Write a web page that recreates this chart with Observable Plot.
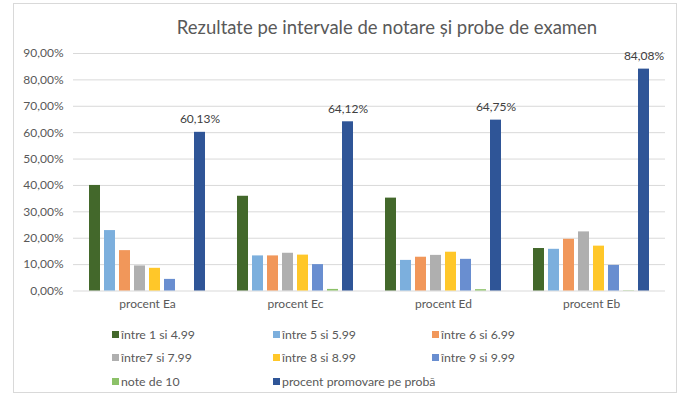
<!DOCTYPE html>
<html>
<head>
<meta charset="utf-8">
<script src="https://cdn.jsdelivr.net/npm/d3@7"></script>
<script src="https://cdn.jsdelivr.net/npm/@observablehq/plot@0.6"></script>
<style>
  html, body { margin: 0; padding: 0; background: #fff; }
  #wrap { position: relative; width: 700px; height: 400px; overflow: hidden; font-family: Lato, "Open Sans", sans-serif; color: #595959; }
  #frame { position: absolute; left: 13px; top: 3px; width: 664px; height: 390px; border: 1px solid #d9d9d9; box-sizing: border-box; }
  #title { position: absolute; left: 0; width: 700px; top: 16px; text-align: center; font-size: 18.5px; color: #595959; padding-left: 74px; box-sizing: border-box; }
  #chart { position: absolute; left: 0; top: 40px; }
  .leg { position: absolute; font-size: 12.3px; color: #595959; white-space: nowrap; display: flex; align-items: center; }
  .sw { width: 7px; height: 7px; margin-right: 2px; display: inline-block; }
</style>
</head>
<body>
<div id="wrap">
  <div id="frame"></div>
  <div id="title">Rezultate pe intervale de notare și probe de examen</div>
  <div id="chart"></div>
  <div id="legend"></div>
</div>
<script>
const categories = ["procent Ea", "procent Ec", "procent Ed", "procent Eb"];
const series = ["între 1 si 4.99", "între 5 si 5.99", "între 6 si 6.99", "între7 si 7.99",
                "între 8 si 8.99", "între 9 si 9.99", "note de 10", "procent promovare pe probă"];
const colors = ["#43682b", "#7cafdd", "#f1975a", "#afafaf", "#ffc729", "#698ed0", "#8cc168", "#2f5597"];
// values in percent, one array per category (order = series)
const valuesEa = [40.0, 22.9, 15.3, 9.5, 8.6, 4.4, 0.0, 60.13];
const valuesEc = [35.9, 13.3, 13.3, 14.3, 13.6, 10.0, 0.6, 64.12];
const valuesEd = [35.2, 11.6, 12.8, 13.5, 14.7, 12.0, 0.5, 64.75];
const valuesEb = [16.1, 15.8, 19.6, 22.4, 17.0, 9.7, 0.1, 84.08];
const yTicks = [0, 0.1, 0.2, 0.3, 0.4, 0.5, 0.6, 0.7, 0.8, 0.9];

const allValues = [valuesEa, valuesEc, valuesEd, valuesEb];
const data = [];
categories.forEach((c, i) => series.forEach((s, j) => data.push({cat: c, ser: s, v: allValues[i][j] / 100})));

const pct = d => (d * 100).toFixed(2).replace(".", ",") + "%";
const labelSeries = "procent promovare pe probă";

const chart = Plot.plot({
  width: 700,
  height: 280,
  marginLeft: 73,
  marginRight: 35,
  marginTop: 13,
  marginBottom: 29.5,
  style: {fontFamily: "Lato, 'Open Sans', sans-serif", fontSize: "12px", color: "#595959", background: "transparent"},
  fx: {domain: categories, padding: 0, label: null},
  x: {domain: series, paddingInner: 0.27, paddingOuter: 1.05, axis: null},
  y: {domain: [0, 0.9], label: null},
  color: {domain: series, range: colors},
  marks: [
    Plot.gridY(yTicks, {stroke: "#d9d9d9", strokeOpacity: 1}),
    Plot.axisY({ticks: yTicks, tickFormat: pct, tickSize: 0, tickPadding: 10, label: null, fontSize: 12, fill: "#595959"}),
    Plot.axisFx({anchor: "bottom", tickSize: 0, tickPadding: 8, label: null, fontSize: 12, fill: "#595959"}),
    Plot.barY(data, {fx: "cat", x: "ser", y: "v", fill: "ser"}),
    Plot.text(data.filter(d => d.ser === labelSeries), {fx: "cat", x: "ser", y: "v", text: d => pct(d.v), dy: -13, fill: "#404040", fontSize: 12})
  ]
});
document.getElementById("chart").appendChild(chart);

// Legend
const legCols = [112, 273, 432];
const legRows = [334, 357, 381];
const legend = document.getElementById("legend");
series.forEach((s, i) => {
  const el = document.createElement("div");
  el.className = "leg";
  el.style.left = legCols[i % 3] + "px";
  el.style.top = (legRows[Math.floor(i / 3)] - 8) + "px";
  el.style.height = "16px";
  const sw = document.createElement("span");
  sw.className = "sw";
  sw.style.background = colors[i];
  el.appendChild(sw);
  el.appendChild(document.createTextNode(s));
  legend.appendChild(el);
});
</script>
</body>
</html>
